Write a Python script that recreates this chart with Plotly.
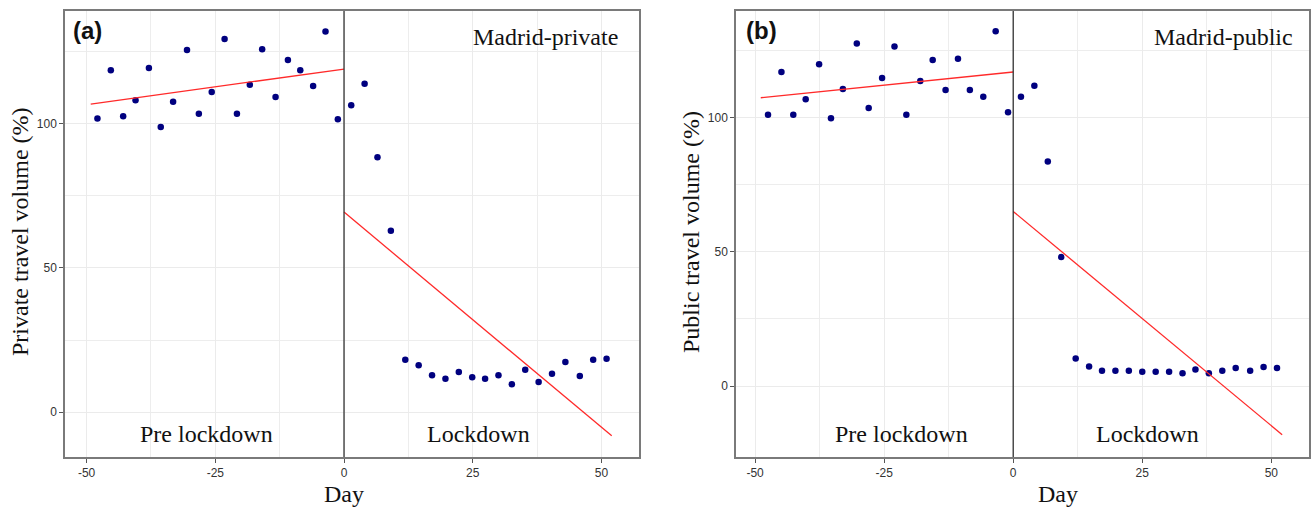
import plotly.graph_objects as go

# ---------------- data ----------------
# Madrid, private travel volume (%)
priv_pre_day = [-47.9, -45.3, -42.9, -40.5, -37.9, -35.6, -33.2, -30.5, -28.2, -25.7,
                -23.2, -20.8, -18.3, -15.9, -13.3, -10.9, -8.5, -6.0, -3.6, -1.2]
priv_pre_val = [101.7, 118.4, 102.5, 108.0, 119.2, 98.7, 107.5, 125.4, 103.3, 110.9,
                129.2, 103.3, 113.4, 125.7, 109.1, 121.9, 118.4, 112.9, 131.8, 101.4]
priv_post_day = [1.4, 4.0, 6.5, 9.1, 11.9, 14.5, 17.1, 19.7, 22.3, 24.9,
                 27.4, 30.0, 32.6, 35.2, 37.8, 40.4, 43.0, 45.8, 48.4, 51.0]
priv_post_val = [106.3, 113.7, 88.3, 62.8, 18.2, 16.3, 12.8, 11.6, 13.9, 12.1,
                 11.6, 12.8, 9.7, 14.7, 10.5, 13.3, 17.4, 12.5, 18.2, 18.5]

# Madrid, public travel volume (%)
pub_pre_day = [-47.5, -44.9, -42.6, -40.2, -37.6, -35.3, -33.0, -30.3, -28.0, -25.4,
               -23.0, -20.7, -18.0, -15.6, -13.1, -10.7, -8.4, -5.8, -3.4, -1.0]
pub_pre_val = [101.0, 116.9, 101.0, 106.8, 119.8, 99.7, 110.6, 127.5, 103.5, 114.7,
               126.4, 101.0, 113.5, 121.4, 110.2, 121.8, 110.2, 107.7, 132.1, 101.9]
pub_post_day = [1.5, 4.1, 6.7, 9.3, 12.1, 14.7, 17.2, 19.8, 22.4, 25.0,
                27.6, 30.2, 32.8, 35.3, 37.9, 40.5, 43.1, 45.9, 48.5, 51.1]
pub_post_val = [107.7, 111.8, 83.6, 48.0, 10.3, 7.3, 5.7, 5.7, 5.7, 5.3,
                5.3, 5.3, 4.8, 6.2, 4.8, 5.7, 6.7, 5.7, 7.1, 6.7]

# linear trends: (intercept at day 0, slope per day, first day, last day)
priv_pre_fit = (118.8, 0.246, -49.2, 0.0)
priv_post_fit = (69.3, -1.49, 0.0, 52.0)
pub_pre_fit = (116.9, 0.196, -48.9, 0.0)
pub_post_fit = (65.0, -1.595, 0.0, 52.1)

x_ticks = [-50, -25, 0, 25, 50]
y_ticks = [0, 50, 100]

# ---------------- styling ----------------
W, H = 1311, 507
SERIF = "Liberation Serif, Times New Roman, serif"
SANS = "Liberation Sans, Arial, sans-serif"
PT_COLOR = "#00007f"
FIT_COLOR = "#ff2a2a"


def px(x):
    return x / W


def py(y):
    return 1 - y / H


fig = go.Figure()


def add_panel(xa, ya, pre_d, pre_v, post_d, post_v, fits):
    for d, v in ((pre_d, pre_v), (post_d, post_v)):
        fig.add_trace(go.Scatter(x=d, y=v, mode="markers", xaxis=xa, yaxis=ya,
                                 marker=dict(color=PT_COLOR, size=6.5),
                                 hoverinfo="x+y"))
    for b0, b1, lo, hi in fits:
        fig.add_trace(go.Scatter(x=[lo, hi], y=[b0 + b1 * lo, b0 + b1 * hi],
                                 mode="lines", xaxis=xa, yaxis=ya,
                                 line=dict(color=FIT_COLOR, width=1.3)))


add_panel("x", "y", priv_pre_day, priv_pre_val, priv_post_day, priv_post_val,
          [priv_pre_fit, priv_post_fit])
add_panel("x2", "y2", pub_pre_day, pub_pre_val, pub_post_day, pub_post_val,
          [pub_pre_fit, pub_post_fit])

axis_common = dict(
    showline=True, mirror=True, linecolor="#7a7a7a", linewidth=1.5,
    showgrid=True, gridcolor="#ebebeb", gridwidth=1,
    zeroline=False, ticks="outside", ticklen=4, tickwidth=1, tickcolor="#555555",
    tickfont=dict(family=SANS, size=12, color="#333333"),
)

ydom = [py(457), py(11)]
fig.update_layout(
    width=W, height=H,
    margin=dict(l=0, r=0, t=0, b=0),
    paper_bgcolor="white", plot_bgcolor="white",
    showlegend=False,
    xaxis=dict(domain=[px(65), px(639)], range=[-54.2, 57.3], anchor="y",
               tickvals=x_ticks, ticktext=[str(t) for t in x_ticks],
               minor=dict(tickvals=[-37.5, -12.5, 12.5, 37.5], showgrid=True,
                          gridcolor="#ededed", gridwidth=1, ticks=""),
               **axis_common),
    yaxis=dict(domain=ydom, range=[-15.5, 138.9], anchor="x",
               tickvals=y_ticks, ticktext=[str(t) for t in y_ticks],
               minor=dict(tickvals=[25, 75, 125], showgrid=True,
                          gridcolor="#ededed", gridwidth=1, ticks=""),
               **axis_common),
    xaxis2=dict(domain=[px(736), px(1309)], range=[-53.7, 57.3], anchor="y2",
                tickvals=x_ticks, ticktext=[str(t) for t in x_ticks],
                minor=dict(tickvals=[-37.5, -12.5, 12.5, 37.5], showgrid=True,
                           gridcolor="#ededed", gridwidth=1, ticks=""),
                **axis_common),
    yaxis2=dict(domain=ydom, range=[-26.4, 139.6], anchor="x2",
                tickvals=y_ticks, ticktext=[str(t) for t in y_ticks],
                minor=dict(tickvals=[25, 75, 125], showgrid=True,
                           gridcolor="#ededed", gridwidth=1, ticks=""),
                **axis_common),
)

# lockdown start
for xr, yr in (("x", "y domain"), ("x2", "y2 domain")):
    fig.add_shape(type="line", xref=xr, yref=yr, x0=0, x1=0, y0=0, y1=1,
                  line=dict(color="#333333", width=1.3), layer="above")


def note(text, x, y, xref="paper", size=24, family=SERIF, xanchor="center",
         yanchor="middle", bold=False, angle=0):
    fig.add_annotation(text=f"<b>{text}</b>" if bold else text, x=x, y=y,
                       xref=xref, yref="paper", showarrow=False,
                       xanchor=xanchor, yanchor=yanchor, textangle=angle,
                       font=dict(family=family, size=size, color="#111111"))


# panel (a)
note("(a)", px(71), py(31), size=24, family=SANS, xanchor="left", bold=True)
note("Madrid-private", px(620), py(37), xanchor="right")
note("Pre lockdown", -26.7, py(434), xref="x")
note("Lockdown", 26.1, py(434), xref="x")
note("Day", px(344), py(494))
note("Private travel volume (%)", px(20), py(232), angle=-90)

# panel (b)
note("(b)", px(744), py(31), size=24, family=SANS, xanchor="left", bold=True)
note("Madrid-public", px(1295), py(37), xanchor="right")
note("Pre lockdown", -21.6, py(434), xref="x2")
note("Lockdown", 26.1, py(434), xref="x2")
note("Day", px(1058), py(494))
note("Public travel volume (%)", px(691), py(232), angle=-90)

fig.write_html("out.html")
